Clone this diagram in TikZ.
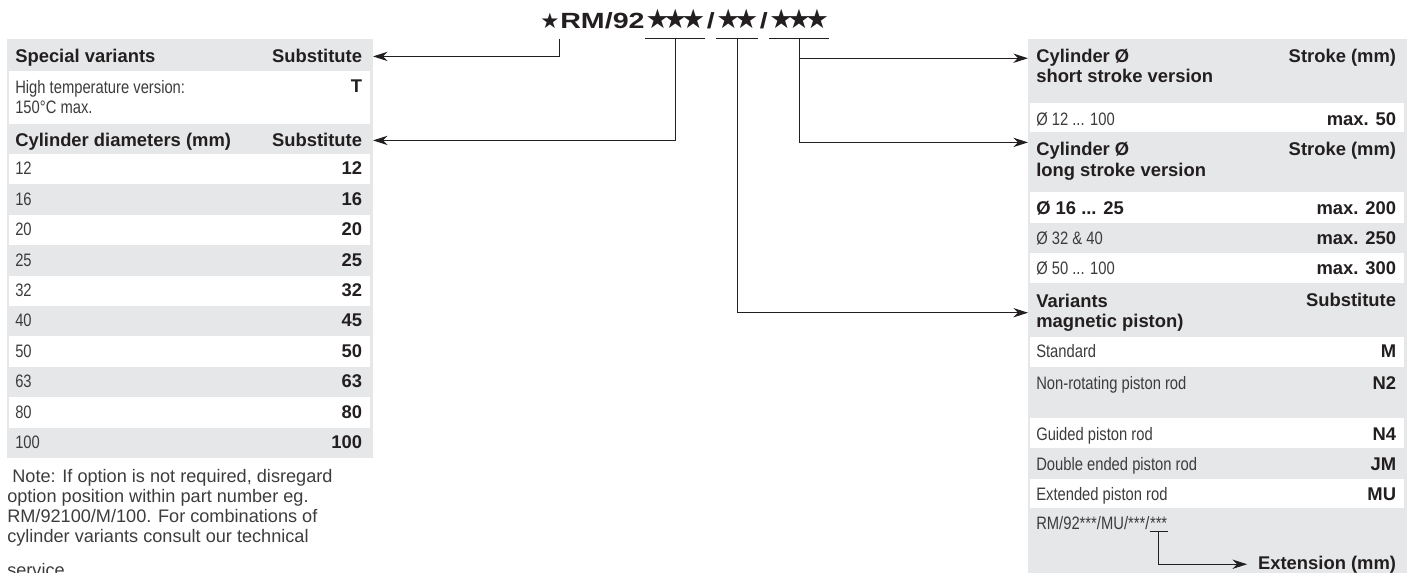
\documentclass[tikz,border=0pt]{standalone}
\usepackage{fontspec}
\setmainfont{Liberation Sans}
\newfontfamily\condfont[FakeStretch=0.82]{Liberation Sans}
\newfontfamily\widefont[FakeStretch=1.3]{Liberation Sans}
\newfontfamily\starfont{DejaVu Sans}
\usetikzlibrary{arrows.meta}
\definecolor{panel}{HTML}{E6E7E8}
\definecolor{ink}{HTML}{231F20}
\definecolor{softink}{HTML}{3C3C3C}
\newcommand{\hdfont}{\fontsize{13.8}{15.5}\selectfont\bfseries}
\newcommand{\ltfont}{\condfont\fontsize{13.5}{15}\selectfont}
\newcommand{\bigstar}{\starfont\fontsize{20}{20}\selectfont}
\newcommand{\pnfont}{\widefont\bfseries\fontsize{16.5}{18}\selectfont}
\newcommand{\sk}{\kern-4.5pt}
\tikzset{
  lcol/.style={anchor=base west, inner xsep=6pt, inner ysep=0pt},
  rcol/.style={anchor=base east, inner xsep=8pt, inner ysep=0pt},
  hd/.style={font=\hdfont, text=ink},
  lt/.style={font=\ltfont, text=softink},
  link/.style={draw=ink, line width=0.75pt},
  arr/.style={link, -{Stealth[length=11pt, width=7pt, inset=3.5pt]}},
  titlepart/.style={anchor=base west, inner sep=0pt, text=ink},
}

\begin{document}
\begin{tikzpicture}[x=0.75pt, y=-0.75pt]
    \useasboundingbox (0,0) rectangle (1413,573);

    % Part number
    \node[titlepart, font=\starfont\fontsize{16}{16}\selectfont] (s0) at (540,29) {★};
    \node[titlepart, inner xsep=0.3pt, font=\pnfont] (pre) at (s0.base east) {RM/92};
    \node[titlepart, font=\bigstar] (g1) at (pre.base east) {★\sk★\sk★};
    \node[titlepart, inner xsep=0.8pt, font=\pnfont] (sl1) at (g1.base east) {/};
    \node[titlepart, font=\bigstar] (g2) at (sl1.base east) {★\sk★};
    \node[titlepart, inner xsep=0.8pt, font=\pnfont] (sl2) at (g2.base east) {/};
    \node[titlepart, font=\bigstar] (g3) at (sl2.base east) {★\sk★\sk★};

    % Underlines
    \foreach \g in {g1,g2,g3}
        \draw[link] ([yshift=-7pt]\g.south west) -- ([yshift=-7pt]\g.south east);
    \coordinate (u0) at ([yshift=-7pt]s0.south east);
    \coordinate (u1) at ([yshift=-7pt]g1.south);
    \coordinate (u2) at ([yshift=-7pt]g2.south);
    \coordinate (u3) at ([yshift=-7pt]g3.south);

    % Left table
    \fill[panel] (7,39) rectangle (373,458);
    \fill[white] (9,71) rectangle (370,124);
    \node[lcol,hd] (spv) at (7,63) {Special variants};
    \node[rcol,hd] (subA) at (373,63) {Substitute};
    \node[lcol,lt,anchor=north west,align=left] (ht) at (7,80.5) {High temperature version:\\150°C max.};
    \node[rcol,hd] (htT) at (373,93) {T};
    \node[lcol,hd] (dia) at (7,147) {Cylinder diameters (mm)};
    \node[rcol,hd] (subB) at (373,147) {Substitute};
    \foreach \d/\s [count=\i from 0] in {12/12,16/16,20/20,25/25,32/32,40/45,50/50,63/63,80/80,100/100} {
        \pgfmathsetmacro\rowy{154+30.4*\i}
        \ifodd\i\else\fill[white] (9,\rowy) rectangle (370,\rowy+30.4);\fi
        \node[lcol,lt] (dl\i) at (7,\rowy+21) {\d};
        \node[rcol,hd] (dr\i) at (373,\rowy+21) {\s};
    }

    % Note
    \node[anchor=north west, inner sep=0pt, align=left, font=\fontsize{13.6}{14.8}\selectfont, text=softink] (note) at (7,469.5)
        {\hspace*{0.28em}Note: If option is not required, disregard\\option position within part number eg.\\RM/92100/M/100. For combinations of\\cylinder variants consult our technical\\[11pt]service.};

    % Right table
    \fill[panel] (1028,39) rectangle (1407,580);
    \foreach \a/\b in {103/132,192/223,253/283,337/367,418/448,479/508}
        \fill[white] (1030,\a) rectangle (1404,\b);
    \node[lcol,hd] (cs1) at (1028,63) {Cylinder Ø};
    \node[lcol,hd] (cs2) at (1028,83) {short stroke version};
    \node[rcol,hd] (cs3) at (1407,63) {Stroke (mm)};
    \node[lcol,lt] (r1l) at (1028,126) {Ø 12 ... 100};
    \node[rcol,hd] (r1r) at (1407,126) {max. 50};
    \node[lcol,hd] (cl1) at (1028,156) {Cylinder Ø};
    \node[lcol,hd] (cl2) at (1028,177) {long stroke version};
    \node[rcol,hd] (cl3) at (1407,156) {Stroke (mm)};
    \node[lcol,hd] (r2l) at (1028,215) {Ø 16 ... 25};
    \node[rcol,hd] (r2r) at (1407,215) {max. 200};
    \node[lcol,lt] (r3l) at (1028,245) {Ø 32 \& 40};
    \node[rcol,hd] (r3r) at (1407,245) {max. 250};
    \node[lcol,lt] (r4l) at (1028,275) {Ø 50 ... 100};
    \node[rcol,hd] (r4r) at (1407,275) {max. 300};
    \node[lcol,hd,anchor=north west,align=left] (var) at (1028,293.5) {Variants\\magnetic piston)};
    \node[rcol,hd] (vs) at (1407,307) {Substitute};
    \foreach \y/\l/\s [count=\i] in {358/Standard/M, 390/Non-rotating piston rod/N2, 440/Guided piston rod/N4, 470/Double ended piston rod/JM, 500/Extended piston rod/MU} {
        \node[lcol,lt] (vl\i) at (1028,\y) {\l};
        \node[rcol,hd] (vr\i) at (1407,\y) {\s};
    }
    \node[lt, anchor=base west, inner sep=0pt] (code) at (1036,529) {RM/92***/MU/***/};
    \node[titlepart, lt] (codeext) at (code.base east) {***};
    \draw[link] ([yshift=-1.5pt]codeext.south west) -- ([yshift=-1.5pt]codeext.south east);
    \coordinate (u4) at ([yshift=-1.5pt]codeext.south);
    \node[rcol,hd] (ext) at (1407,569) {Extension (mm)};

    % Connectors
    \draw[arr] (u0) |- (subA.east);
    \draw[arr] (u1) |- (subB.east);
    \draw[arr] (u2) |- (var.west);
    \draw[arr] (u3) |- (cs1.west);
    \draw[arr] (u3) |- (cl1.north west);
    \draw[arr] (u4) |- (ext.west);
\end{tikzpicture}
\end{document}
